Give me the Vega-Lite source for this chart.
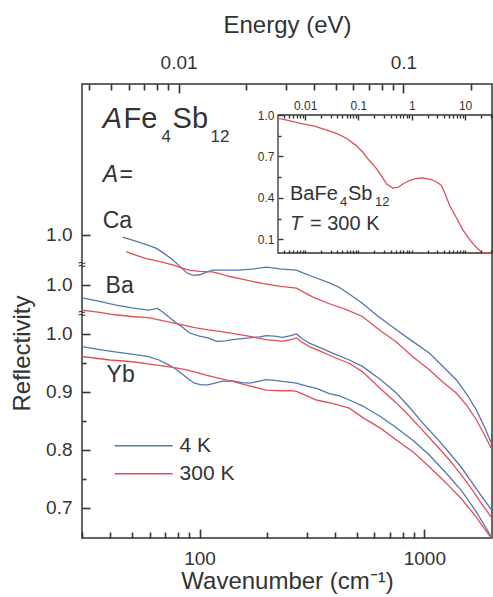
{
  "$schema": "https://vega.github.io/schema/vega-lite/v6.json",
  "width": 410,
  "height": 454,
  "autosize": {"type": "none"},
  "padding": {"left": 82, "top": 84, "right": 1, "bottom": 59},
  "background": "white",
  "config": {
    "view": {"stroke": "#333", "strokeWidth": 1.5},
    "axis": {"grid": false, "ticks": true, "domain": false, "labelColor": "#333", "titleColor": "#333", "labelFont": "Liberation Sans", "titleFont": "Liberation Sans", "titleFontWeight": "normal", "labelOverlap": false, "labelFlush": false},
    "text": {"font": "Liberation Sans", "color": "#333"}
  },
  "datasets": {
    "main": [
      {"s":"Ca","T":"4 K","w":45.5,"R":1.167},{"s":"Ca","T":"4 K","w":52,"R":1.160},{"s":"Ca","T":"4 K","w":58,"R":1.154},{"s":"Ca","T":"4 K","w":64,"R":1.148},{"s":"Ca","T":"4 K","w":70,"R":1.138},{"s":"Ca","T":"4 K","w":75.9,"R":1.128},{"s":"Ca","T":"4 K","w":82,"R":1.116},{"s":"Ca","T":"4 K","w":88,"R":1.105},{"s":"Ca","T":"4 K","w":94,"R":1.101},{"s":"Ca","T":"4 K","w":100,"R":1.102},{"s":"Ca","T":"4 K","w":107,"R":1.106},{"s":"Ca","T":"4 K","w":114,"R":1.110},{"s":"Ca","T":"4 K","w":130,"R":1.110},{"s":"Ca","T":"4 K","w":150,"R":1.110},{"s":"Ca","T":"4 K","w":175,"R":1.112},{"s":"Ca","T":"4 K","w":198,"R":1.115},{"s":"Ca","T":"4 K","w":212,"R":1.114},{"s":"Ca","T":"4 K","w":227,"R":1.112},{"s":"Ca","T":"4 K","w":250,"R":1.111},{"s":"Ca","T":"4 K","w":270,"R":1.110},{"s":"Ca","T":"4 K","w":290,"R":1.105},{"s":"Ca","T":"4 K","w":318,"R":1.099},{"s":"Ca","T":"4 K","w":378,"R":1.088},{"s":"Ca","T":"4 K","w":419,"R":1.080},{"s":"Ca","T":"4 K","w":470,"R":1.067},{"s":"Ca","T":"4 K","w":530,"R":1.053},{"s":"Ca","T":"4 K","w":620,"R":1.031},{"s":"Ca","T":"4 K","w":751,"R":1.007},{"s":"Ca","T":"4 K","w":880,"R":0.988},{"s":"Ca","T":"4 K","w":1052,"R":0.967},{"s":"Ca","T":"4 K","w":1200,"R":0.945},{"s":"Ca","T":"4 K","w":1387,"R":0.921},{"s":"Ca","T":"4 K","w":1550,"R":0.895},{"s":"Ca","T":"4 K","w":1703,"R":0.869},{"s":"Ca","T":"4 K","w":1850,"R":0.840},{"s":"Ca","T":"4 K","w":1986,"R":0.812},
      {"s":"Ca","T":"300 K","w":47.2,"R":1.142},{"s":"Ca","T":"300 K","w":52,"R":1.136},{"s":"Ca","T":"300 K","w":58,"R":1.130},{"s":"Ca","T":"300 K","w":66,"R":1.125},{"s":"Ca","T":"300 K","w":76,"R":1.119},{"s":"Ca","T":"300 K","w":83,"R":1.114},{"s":"Ca","T":"300 K","w":90.3,"R":1.110},{"s":"Ca","T":"300 K","w":100,"R":1.108},{"s":"Ca","T":"300 K","w":114,"R":1.107},{"s":"Ca","T":"300 K","w":125,"R":1.103},{"s":"Ca","T":"300 K","w":136,"R":1.099},{"s":"Ca","T":"300 K","w":160,"R":1.093},{"s":"Ca","T":"300 K","w":190,"R":1.087},{"s":"Ca","T":"300 K","w":230,"R":1.082},{"s":"Ca","T":"300 K","w":270,"R":1.079},{"s":"Ca","T":"300 K","w":290,"R":1.072},{"s":"Ca","T":"300 K","w":318,"R":1.064},{"s":"Ca","T":"300 K","w":378,"R":1.052},{"s":"Ca","T":"300 K","w":450,"R":1.042},{"s":"Ca","T":"300 K","w":530,"R":1.030},{"s":"Ca","T":"300 K","w":640,"R":1.005},{"s":"Ca","T":"300 K","w":751,"R":0.986},{"s":"Ca","T":"300 K","w":880,"R":0.962},{"s":"Ca","T":"300 K","w":1052,"R":0.938},{"s":"Ca","T":"300 K","w":1200,"R":0.918},{"s":"Ca","T":"300 K","w":1387,"R":0.898},{"s":"Ca","T":"300 K","w":1550,"R":0.876},{"s":"Ca","T":"300 K","w":1703,"R":0.852},{"s":"Ca","T":"300 K","w":1850,"R":0.826},{"s":"Ca","T":"300 K","w":1986,"R":0.803},
      {"s":"Ba","T":"4 K","w":30,"R":1.062},{"s":"Ba","T":"4 K","w":36,"R":1.056},{"s":"Ba","T":"4 K","w":42,"R":1.050},{"s":"Ba","T":"4 K","w":50,"R":1.045},{"s":"Ba","T":"4 K","w":59.3,"R":1.041},{"s":"Ba","T":"4 K","w":65,"R":1.044},{"s":"Ba","T":"4 K","w":69,"R":1.037},{"s":"Ba","T":"4 K","w":72.6,"R":1.030},{"s":"Ba","T":"4 K","w":78,"R":1.020},{"s":"Ba","T":"4 K","w":83,"R":1.013},{"s":"Ba","T":"4 K","w":90,"R":1.002},{"s":"Ba","T":"4 K","w":100,"R":0.996},{"s":"Ba","T":"4 K","w":109,"R":0.993},{"s":"Ba","T":"4 K","w":119,"R":0.987},{"s":"Ba","T":"4 K","w":130,"R":0.988},{"s":"Ba","T":"4 K","w":140,"R":0.990},{"s":"Ba","T":"4 K","w":155,"R":0.992},{"s":"Ba","T":"4 K","w":167,"R":0.993},{"s":"Ba","T":"4 K","w":185,"R":0.995},{"s":"Ba","T":"4 K","w":198,"R":0.997},{"s":"Ba","T":"4 K","w":215,"R":0.996},{"s":"Ba","T":"4 K","w":234,"R":0.994},{"s":"Ba","T":"4 K","w":255,"R":0.997},{"s":"Ba","T":"4 K","w":270,"R":1.000},{"s":"Ba","T":"4 K","w":285,"R":0.992},{"s":"Ba","T":"4 K","w":308,"R":0.984},{"s":"Ba","T":"4 K","w":350,"R":0.975},{"s":"Ba","T":"4 K","w":390,"R":0.967},{"s":"Ba","T":"4 K","w":464,"R":0.955},{"s":"Ba","T":"4 K","w":530,"R":0.944},{"s":"Ba","T":"4 K","w":640,"R":0.921},{"s":"Ba","T":"4 K","w":751,"R":0.898},{"s":"Ba","T":"4 K","w":860,"R":0.873},{"s":"Ba","T":"4 K","w":980,"R":0.847},{"s":"Ba","T":"4 K","w":1130,"R":0.821},{"s":"Ba","T":"4 K","w":1291,"R":0.795},{"s":"Ba","T":"4 K","w":1460,"R":0.770},{"s":"Ba","T":"4 K","w":1634,"R":0.743},{"s":"Ba","T":"4 K","w":1800,"R":0.720},{"s":"Ba","T":"4 K","w":1986,"R":0.697},
      {"s":"Ba","T":"300 K","w":30,"R":1.041},{"s":"Ba","T":"300 K","w":36,"R":1.037},{"s":"Ba","T":"300 K","w":42,"R":1.033},{"s":"Ba","T":"300 K","w":50,"R":1.030},{"s":"Ba","T":"300 K","w":59.3,"R":1.028},{"s":"Ba","T":"300 K","w":70,"R":1.022},{"s":"Ba","T":"300 K","w":83,"R":1.016},{"s":"Ba","T":"300 K","w":95,"R":1.011},{"s":"Ba","T":"300 K","w":109,"R":1.007},{"s":"Ba","T":"300 K","w":125,"R":1.004},{"s":"Ba","T":"300 K","w":140,"R":1.001},{"s":"Ba","T":"300 K","w":165,"R":0.996},{"s":"Ba","T":"300 K","w":198,"R":0.990},{"s":"Ba","T":"300 K","w":215,"R":0.989},{"s":"Ba","T":"300 K","w":234,"R":0.987},{"s":"Ba","T":"300 K","w":255,"R":0.990},{"s":"Ba","T":"300 K","w":270,"R":0.993},{"s":"Ba","T":"300 K","w":285,"R":0.986},{"s":"Ba","T":"300 K","w":308,"R":0.978},{"s":"Ba","T":"300 K","w":350,"R":0.969},{"s":"Ba","T":"300 K","w":390,"R":0.961},{"s":"Ba","T":"300 K","w":464,"R":0.949},{"s":"Ba","T":"300 K","w":530,"R":0.935},{"s":"Ba","T":"300 K","w":640,"R":0.905},{"s":"Ba","T":"300 K","w":751,"R":0.881},{"s":"Ba","T":"300 K","w":860,"R":0.858},{"s":"Ba","T":"300 K","w":980,"R":0.834},{"s":"Ba","T":"300 K","w":1130,"R":0.808},{"s":"Ba","T":"300 K","w":1291,"R":0.783},{"s":"Ba","T":"300 K","w":1460,"R":0.757},{"s":"Ba","T":"300 K","w":1634,"R":0.731},{"s":"Ba","T":"300 K","w":1800,"R":0.707},{"s":"Ba","T":"300 K","w":1986,"R":0.684},
      {"s":"Yb","T":"4 K","w":30,"R":0.978},{"s":"Yb","T":"4 K","w":36,"R":0.973},{"s":"Yb","T":"4 K","w":42,"R":0.969},{"s":"Yb","T":"4 K","w":50,"R":0.965},{"s":"Yb","T":"4 K","w":59.3,"R":0.961},{"s":"Yb","T":"4 K","w":66,"R":0.955},{"s":"Yb","T":"4 K","w":72.6,"R":0.947},{"s":"Yb","T":"4 K","w":78,"R":0.940},{"s":"Yb","T":"4 K","w":83,"R":0.932},{"s":"Yb","T":"4 K","w":90,"R":0.921},{"s":"Yb","T":"4 K","w":95,"R":0.915},{"s":"Yb","T":"4 K","w":102,"R":0.912},{"s":"Yb","T":"4 K","w":109,"R":0.912},{"s":"Yb","T":"4 K","w":117,"R":0.915},{"s":"Yb","T":"4 K","w":125,"R":0.918},{"s":"Yb","T":"4 K","w":140,"R":0.919},{"s":"Yb","T":"4 K","w":155,"R":0.916},{"s":"Yb","T":"4 K","w":167,"R":0.915},{"s":"Yb","T":"4 K","w":182,"R":0.918},{"s":"Yb","T":"4 K","w":198,"R":0.921},{"s":"Yb","T":"4 K","w":215,"R":0.920},{"s":"Yb","T":"4 K","w":234,"R":0.918},{"s":"Yb","T":"4 K","w":250,"R":0.917},{"s":"Yb","T":"4 K","w":270,"R":0.915},{"s":"Yb","T":"4 K","w":300,"R":0.910},{"s":"Yb","T":"4 K","w":331,"R":0.906},{"s":"Yb","T":"4 K","w":378,"R":0.897},{"s":"Yb","T":"4 K","w":420,"R":0.893},{"s":"Yb","T":"4 K","w":464,"R":0.886},{"s":"Yb","T":"4 K","w":530,"R":0.876},{"s":"Yb","T":"4 K","w":640,"R":0.857},{"s":"Yb","T":"4 K","w":751,"R":0.838},{"s":"Yb","T":"4 K","w":900,"R":0.815},{"s":"Yb","T":"4 K","w":1052,"R":0.791},{"s":"Yb","T":"4 K","w":1250,"R":0.760},{"s":"Yb","T":"4 K","w":1475,"R":0.728},{"s":"Yb","T":"4 K","w":1703,"R":0.693},{"s":"Yb","T":"4 K","w":1850,"R":0.670},{"s":"Yb","T":"4 K","w":1986,"R":0.650},
      {"s":"Yb","T":"300 K","w":30,"R":0.961},{"s":"Yb","T":"300 K","w":40,"R":0.955},{"s":"Yb","T":"300 K","w":50.4,"R":0.952},{"s":"Yb","T":"300 K","w":60,"R":0.948},{"s":"Yb","T":"300 K","w":71,"R":0.944},{"s":"Yb","T":"300 K","w":80,"R":0.941},{"s":"Yb","T":"300 K","w":87.5,"R":0.938},{"s":"Yb","T":"300 K","w":96,"R":0.934},{"s":"Yb","T":"300 K","w":107,"R":0.929},{"s":"Yb","T":"300 K","w":120,"R":0.924},{"s":"Yb","T":"300 K","w":140,"R":0.918},{"s":"Yb","T":"300 K","w":165,"R":0.911},{"s":"Yb","T":"300 K","w":198,"R":0.903},{"s":"Yb","T":"300 K","w":234,"R":0.902},{"s":"Yb","T":"300 K","w":255,"R":0.902},{"s":"Yb","T":"300 K","w":270,"R":0.901},{"s":"Yb","T":"300 K","w":300,"R":0.893},{"s":"Yb","T":"300 K","w":331,"R":0.886},{"s":"Yb","T":"300 K","w":390,"R":0.880},{"s":"Yb","T":"300 K","w":464,"R":0.872},{"s":"Yb","T":"300 K","w":530,"R":0.856},{"s":"Yb","T":"300 K","w":640,"R":0.837},{"s":"Yb","T":"300 K","w":751,"R":0.817},{"s":"Yb","T":"300 K","w":900,"R":0.795},{"s":"Yb","T":"300 K","w":1052,"R":0.771},{"s":"Yb","T":"300 K","w":1250,"R":0.743},{"s":"Yb","T":"300 K","w":1475,"R":0.714},{"s":"Yb","T":"300 K","w":1703,"R":0.684},{"s":"Yb","T":"300 K","w":1850,"R":0.664},{"s":"Yb","T":"300 K","w":1986,"R":0.648}
    ],
    "inset": [
      {"E":0.0032,"R":0.975},{"E":0.005,"R":0.96},{"E":0.0081,"R":0.94},{"E":0.015,"R":0.92},{"E":0.0254,"R":0.89},{"E":0.04,"R":0.865},{"E":0.06,"R":0.83},{"E":0.09,"R":0.78},{"E":0.121,"R":0.73},{"E":0.16,"R":0.67},{"E":0.22,"R":0.61},{"E":0.29,"R":0.54},{"E":0.338,"R":0.50},{"E":0.44,"R":0.47},{"E":0.55,"R":0.475},{"E":0.68,"R":0.50},{"E":0.9,"R":0.525},{"E":1.23,"R":0.54},{"E":1.6,"R":0.545},{"E":2.15,"R":0.535},{"E":2.8,"R":0.52},{"E":3.6,"R":0.49},{"E":4.3,"R":0.42},{"E":5.2,"R":0.34},{"E":7,"R":0.25},{"E":9,"R":0.17},{"E":12,"R":0.10},{"E":16.3,"R":0.04},{"E":21.5,"R":0.0},{"E":32,"R":0.0}
    ]
  },
  "layer": [
    {
      "layer": [
        {
          "data": {"name": "main"},
          "mark": {"type": "line", "strokeWidth": 1.3},
          "encoding": {
            "x": {"field": "w", "type": "quantitative", "scale": {"type": "log", "domain": [30, 2000], "nice": false},
              "axis": {"orient": "bottom", "zindex": 1, "title": "Wavenumber (cm⁻¹)", "titleFontSize": 24, "labelFontSize": 19,
                "values": [100, 1000], "format": "d", "tickSize": -9, "tickColor": "#333", "tickWidth": 1.6, "labelPadding": 20, "titlePadding": 1}},
            "y": {"field": "R", "type": "quantitative", "scale": {"domain": [0.648, 1.431], "nice": false, "zero": false},
              "axis": {"orient": "left", "zindex": 1, "title": "Reflectivity", "titleFontSize": 24, "labelFontSize": 19,
                "values": [0.7, 0.8, 0.9, 1.0, 1.0845, 1.1707],
                "labelExpr": "datum.value > 0.99 ? '1.0' : format(datum.value, '.1f')",
                "tickSize": -8, "tickColor": "#333", "tickWidth": 1.6, "labelPadding": 18, "titleY": 269, "titleX": -60, "titleBaseline": "middle"}},
            "color": {"field": "T", "type": "nominal", "scale": {"domain": ["4 K", "300 K"], "range": ["#5577aa", "#e0505a"]}, "legend": null},
            "detail": {"field": "s"},
            "order": {"field": "w", "type": "quantitative"}
          }
        },
        {
          "data": {"name": "main"},
          "mark": {"type": "line", "opacity": 0},
          "encoding": {
            "x": {"field": "w", "type": "quantitative",
              "axis": {"orient": "top", "zindex": 1, "title": "Energy (eV)", "titleFontSize": 24, "labelFontSize": 19,
                "values": [80.655, 806.55],
                "labelExpr": "datum.value < 100 ? '0.01' : '0.1'",
                "tickSize": -9, "tickColor": "#333", "tickWidth": 1.6, "labelPadding": 21, "titlePadding": 16}},
            "y": {"field": "R", "type": "quantitative",
              "axis": {"orient": "left", "zindex": 1, "title": null, "labels": false, "values": [0.75, 0.85, 0.95], "tickSize": -4, "tickColor": "#333", "tickWidth": 1.6}},
            "detail": {"field": "s"}
          }
        },
        {
          "data": {"name": "main"},
          "mark": {"type": "line", "opacity": 0},
          "encoding": {
            "x": {"field": "w", "type": "quantitative",
              "axis": {"orient": "bottom", "zindex": 1, "title": null, "labels": false,
                "values": [30,40,50,60,70,80,90,200,300,400,500,600,700,800,900], "tickSize": -6, "tickColor": "#333", "tickWidth": 1.6}},
            "y": {"field": "R", "type": "quantitative", "axis": null},
            "detail": {"field": "s"}
          }
        },
        {
          "data": {"name": "main"},
          "mark": {"type": "line", "opacity": 0},
          "encoding": {
            "x": {"field": "w", "type": "quantitative",
              "axis": {"orient": "top", "zindex": 1, "title": null, "labels": false,
                "values": [32.262,40.328,48.393,56.459,64.524,72.590,161.31,241.97,322.62,403.28,483.93,564.59,645.24,725.90,1613.1], "tickSize": -6, "tickColor": "#333", "tickWidth": 1.6}},
            "y": {"field": "R", "type": "quantitative", "axis": null},
            "detail": {"field": "s"}
          }
        },
        {"data": {"values": [{}]}, "mark": {"type": "text", "align": "left", "baseline": "alphabetic", "fontSize": 29, "fontStyle": "italic"},
          "encoding": {"x": {"datum": 37.1, "type": "quantitative", "axis": null}, "y": {"datum": 1.355, "type": "quantitative", "axis": null}, "text": {"value": "A"}}},
        {"data": {"values": [{}]}, "mark": {"type": "text", "align": "left", "baseline": "alphabetic", "fontSize": 29},
          "encoding": {"x": {"datum": 45.9, "type": "quantitative", "axis": null}, "y": {"datum": 1.355, "type": "quantitative", "axis": null}, "text": {"value": "Fe"}}},
        {"data": {"values": [{}]}, "mark": {"type": "text", "align": "left", "baseline": "alphabetic", "fontSize": 17},
          "encoding": {"x": {"datum": 67.8, "type": "quantitative", "axis": null}, "y": {"datum": 1.331, "type": "quantitative", "axis": null}, "text": {"value": "4"}}},
        {"data": {"values": [{}]}, "mark": {"type": "text", "align": "left", "baseline": "alphabetic", "fontSize": 29},
          "encoding": {"x": {"datum": 75.9, "type": "quantitative", "axis": null}, "y": {"datum": 1.355, "type": "quantitative", "axis": null}, "text": {"value": "Sb"}}},
        {"data": {"values": [{}]}, "mark": {"type": "text", "align": "left", "baseline": "alphabetic", "fontSize": 17},
          "encoding": {"x": {"datum": 111.9, "type": "quantitative", "axis": null}, "y": {"datum": 1.331, "type": "quantitative", "axis": null}, "text": {"value": "12"}}},
        {"data": {"values": [{}]}, "mark": {"type": "text", "align": "left", "baseline": "alphabetic", "fontSize": 23, "fontStyle": "italic"},
          "encoding": {"x": {"datum": 37.1, "type": "quantitative", "axis": null}, "y": {"datum": 1.262, "type": "quantitative", "axis": null}, "text": {"value": "A"}}},
        {"data": {"values": [{}]}, "mark": {"type": "text", "align": "left", "baseline": "alphabetic", "fontSize": 23},
          "encoding": {"x": {"datum": 44.1, "type": "quantitative", "axis": null}, "y": {"datum": 1.262, "type": "quantitative", "axis": null}, "text": {"value": "="}}},
        {"data": {"values": [{}]}, "mark": {"type": "text", "align": "left", "baseline": "alphabetic", "fontSize": 23},
          "encoding": {"x": {"datum": 37.1, "type": "quantitative", "axis": null}, "y": {"datum": 1.183, "type": "quantitative", "axis": null}, "text": {"value": "Ca"}}},
        {"data": {"values": [{}]}, "mark": {"type": "text", "align": "left", "baseline": "alphabetic", "fontSize": 23},
          "encoding": {"x": {"datum": 38.2, "type": "quantitative", "axis": null}, "y": {"datum": 1.071, "type": "quantitative", "axis": null}, "text": {"value": "Ba"}}},
        {"data": {"values": [{}]}, "mark": {"type": "text", "align": "left", "baseline": "alphabetic", "fontSize": 23},
          "encoding": {"x": {"datum": 38.6, "type": "quantitative", "axis": null}, "y": {"datum": 0.917, "type": "quantitative", "axis": null}, "text": {"value": "Yb"}}},
        {"data": {"values": [{}]}, "mark": {"type": "text", "align": "center", "baseline": "middle", "fontSize": 14},
          "encoding": {"x": {"datum": 30, "type": "quantitative", "axis": null}, "y": {"datum": 1.119, "type": "quantitative", "axis": null}, "text": {"value": "≈"}}},
        {"data": {"values": [{}]}, "mark": {"type": "text", "align": "center", "baseline": "middle", "fontSize": 14},
          "encoding": {"x": {"datum": 30, "type": "quantitative", "axis": null}, "y": {"datum": 1.034, "type": "quantitative", "axis": null}, "text": {"value": "≈"}}},
        {"data": {"values": [{}]}, "mark": {"type": "rule", "color": "#5577aa", "strokeWidth": 1.5},
          "encoding": {"x": {"datum": 41.9, "type": "quantitative", "axis": null}, "x2": {"datum": 75.9}, "y": {"datum": 0.807, "type": "quantitative", "axis": null}}},
        {"data": {"values": [{}]}, "mark": {"type": "rule", "color": "#e0505a", "strokeWidth": 1.5},
          "encoding": {"x": {"datum": 41.9, "type": "quantitative", "axis": null}, "x2": {"datum": 75.9}, "y": {"datum": 0.759, "type": "quantitative", "axis": null}}},
        {"data": {"values": [{}]}, "mark": {"type": "text", "align": "left", "baseline": "middle", "fontSize": 21},
          "encoding": {"x": {"datum": 81.5, "type": "quantitative", "axis": null}, "y": {"datum": 0.807, "type": "quantitative", "axis": null}, "text": {"value": "4 K"}}},
        {"data": {"values": [{}]}, "mark": {"type": "text", "align": "left", "baseline": "middle", "fontSize": 21},
          "encoding": {"x": {"datum": 81.5, "type": "quantitative", "axis": null}, "y": {"datum": 0.759, "type": "quantitative", "axis": null}, "text": {"value": "300 K"}}}
      ],
      "resolve": {"axis": {"x": "independent", "y": "independent"}}
    },
    {
      "layer": [
        {"data": {"values": [{}]}, "mark": {"type": "rect", "fill": "white", "stroke": "#333", "strokeWidth": 1.3},
          "encoding": {"x": {"datum": 0.0031, "type": "quantitative", "axis": null}, "x2": {"datum": 32}, "y": {"datum": 0, "type": "quantitative", "axis": null}, "y2": {"datum": 1}}},
        {"data": {"name": "inset"}, "mark": {"type": "line", "color": "#e0505a", "strokeWidth": 1.3},
          "encoding": {
            "x": {"field": "E", "type": "quantitative", "scale": {"type": "log", "domain": [0.0031, 32], "range": [196, 410], "nice": false},
              "axis": {"orient": "top", "offset": -31, "title": null, "labelFontSize": 12, "zindex": 2,
                "values": [0.01, 0.1, 1, 10],
                "labelExpr": "datum.value == 0.01 ? '0.01' : datum.value == 0.1 ? '0.1' : datum.value == 1 ? '1' : '10'",
                "tickSize": -5, "tickColor": "#333", "tickWidth": 1.4, "labelPadding": 8}},
            "y": {"field": "R", "type": "quantitative", "scale": {"domain": [0, 1], "range": [169, 31], "nice": false, "zero": false},
              "axis": {"orient": "left", "offset": -196, "title": null, "labelFontSize": 12, "zindex": 2,
                "values": [0.1, 0.4, 0.7, 1.0], "format": ".1f",
                "tickSize": -5, "tickColor": "#333", "tickWidth": 1.4, "labelPadding": 9}}
          }
        },
        {"data": {"name": "inset"}, "mark": {"type": "line", "opacity": 0},
          "encoding": {
            "x": {"field": "E", "type": "quantitative",
              "axis": {"orient": "top", "offset": -31, "title": null, "labels": false, "zindex": 2,
                "values": [0.004,0.005,0.006,0.007,0.008,0.009,0.02,0.03,0.04,0.05,0.06,0.07,0.08,0.09,0.2,0.3,0.4,0.5,0.6,0.7,0.8,0.9,2,3,4,5,6,7,8,9,20,30],
                "tickSize": -3, "tickColor": "#333", "tickWidth": 1.4}},
            "y": {"field": "R", "type": "quantitative",
              "axis": {"orient": "left", "offset": -196, "title": null, "labels": false, "zindex": 2,
                "values": [0.25, 0.55, 0.85], "tickSize": -3, "tickColor": "#333", "tickWidth": 1.4}}
          }
        },
        {"data": {"name": "inset"}, "mark": {"type": "line", "opacity": 0},
          "encoding": {
            "x": {"field": "E", "type": "quantitative",
              "axis": {"orient": "bottom", "offset": -285, "title": null, "labels": false, "zindex": 2,
                "values": [0.004,0.005,0.006,0.007,0.008,0.009,0.01,0.02,0.03,0.04,0.05,0.06,0.07,0.08,0.09,0.1,0.2,0.3,0.4,0.5,0.6,0.7,0.8,0.9,1,2,3,4,5,6,7,8,9,10,20,30],
                "tickSize": -3, "tickColor": "#333", "tickWidth": 1.4}},
            "y": {"field": "R", "type": "quantitative", "axis": null}
          }
        },
        {"data": {"values": [{}]}, "mark": {"type": "text", "align": "left", "baseline": "alphabetic", "fontSize": 20},
          "encoding": {"x": {"datum": 0.0052, "type": "quantitative", "axis": null}, "y": {"datum": 0.384, "type": "quantitative", "axis": null}, "text": {"value": "BaFe"}}},
        {"data": {"values": [{}]}, "mark": {"type": "text", "align": "left", "baseline": "alphabetic", "fontSize": 13},
          "encoding": {"x": {"datum": 0.0451, "type": "quantitative", "axis": null}, "y": {"datum": 0.341, "type": "quantitative", "axis": null}, "text": {"value": "4"}}},
        {"data": {"values": [{}]}, "mark": {"type": "text", "align": "left", "baseline": "alphabetic", "fontSize": 20},
          "encoding": {"x": {"datum": 0.0637, "type": "quantitative", "axis": null}, "y": {"datum": 0.384, "type": "quantitative", "axis": null}, "text": {"value": "Sb"}}},
        {"data": {"values": [{}]}, "mark": {"type": "text", "align": "left", "baseline": "alphabetic", "fontSize": 13},
          "encoding": {"x": {"datum": 0.2045, "type": "quantitative", "axis": null}, "y": {"datum": 0.341, "type": "quantitative", "axis": null}, "text": {"value": "12"}}},
        {"data": {"values": [{}]}, "mark": {"type": "text", "align": "left", "baseline": "alphabetic", "fontSize": 20, "fontStyle": "italic"},
          "encoding": {"x": {"datum": 0.0052, "type": "quantitative", "axis": null}, "y": {"datum": 0.167, "type": "quantitative", "axis": null}, "text": {"value": "T"}}},
        {"data": {"values": [{}]}, "mark": {"type": "text", "align": "left", "baseline": "alphabetic", "fontSize": 20},
          "encoding": {"x": {"datum": 0.01235, "type": "quantitative", "axis": null}, "y": {"datum": 0.167, "type": "quantitative", "axis": null}, "text": {"value": "= 300 K"}}}
      ],
      "resolve": {"axis": {"x": "independent", "y": "independent"}}
    }
  ],
  "resolve": {"scale": {"x": "independent", "y": "independent"}}
}
